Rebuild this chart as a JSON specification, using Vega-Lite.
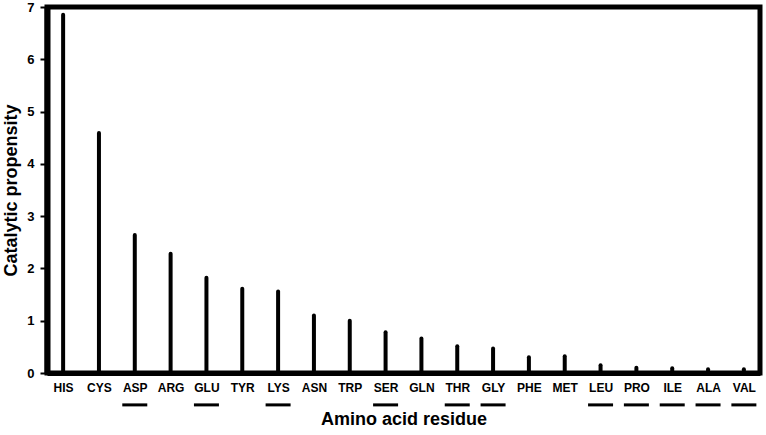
{
  "$schema": "https://vega.github.io/schema/vega-lite/v6.json",
  "autosize": "none",
  "width": 713,
  "height": 366,
  "padding": {"left": 47, "top": 7, "right": 6, "bottom": 62},
  "background": "white",
  "config": {
    "font": "Liberation Sans",
    "view": {"stroke": "black", "strokeWidth": 5},
    "axis": {"labelFont": "Liberation Sans", "titleFont": "Liberation Sans", "labelFontWeight": "bold", "titleFontWeight": "bold", "labelColor": "black", "titleColor": "black", "grid": false, "domainColor": "black", "tickColor": "black"}
  },
  "data": {
    "values": [
      {"residue": "HIS", "propensity": 6.85, "underlined": false},
      {"residue": "CYS", "propensity": 4.59, "underlined": false},
      {"residue": "ASP", "propensity": 2.64, "underlined": true},
      {"residue": "ARG", "propensity": 2.28, "underlined": false},
      {"residue": "GLU", "propensity": 1.82, "underlined": true},
      {"residue": "TYR", "propensity": 1.61, "underlined": false},
      {"residue": "LYS", "propensity": 1.56, "underlined": true},
      {"residue": "ASN", "propensity": 1.10, "underlined": false},
      {"residue": "TRP", "propensity": 1.00, "underlined": false},
      {"residue": "SER", "propensity": 0.78, "underlined": true},
      {"residue": "GLN", "propensity": 0.66, "underlined": false},
      {"residue": "THR", "propensity": 0.51, "underlined": true},
      {"residue": "GLY", "propensity": 0.47, "underlined": true},
      {"residue": "PHE", "propensity": 0.30, "underlined": false},
      {"residue": "MET", "propensity": 0.32, "underlined": false},
      {"residue": "LEU", "propensity": 0.15, "underlined": true},
      {"residue": "PRO", "propensity": 0.10, "underlined": true},
      {"residue": "ILE", "propensity": 0.09, "underlined": true},
      {"residue": "ALA", "propensity": 0.07, "underlined": true},
      {"residue": "VAL", "propensity": 0.07, "underlined": true}
    ]
  },
  "encoding": {
    "x": {
      "field": "residue", "type": "nominal", "sort": null,
      "scale": {"type": "point", "padding": 0.45},
      "axis": {"title": "Amino acid residue", "labelAngle": 0, "labelFontSize": 12, "ticks": false, "domainWidth": 5, "labelPadding": 9, "titleFontSize": 18, "titlePadding": 17}
    }
  },
  "layer": [
    {
      "mark": {"type": "rule", "color": "black", "strokeWidth": 4, "strokeCap": "round"},
      "encoding": {
        "y": {
          "field": "propensity", "type": "quantitative",
          "scale": {"domain": [0, 7], "nice": false},
          "axis": {"title": "Catalytic propensity", "values": [0,1,2,3,4,5,6,7], "format": "d", "labelFontSize": 13, "tickSize": 7, "tickWidth": 2, "domainWidth": 6, "labelPadding": 6, "titleFontSize": 18, "titlePadding": 6}
        },
        "y2": {"datum": 0}
      }
    },
    {
      "transform": [{"filter": "datum.underlined"}],
      "mark": {"type": "tick", "color": "black", "opacity": 1, "size": 25, "thickness": 3, "orient": "horizontal"},
      "encoding": {
        "y": {"datum": -0.61, "type": "quantitative"}
      }
    }
  ]
}
